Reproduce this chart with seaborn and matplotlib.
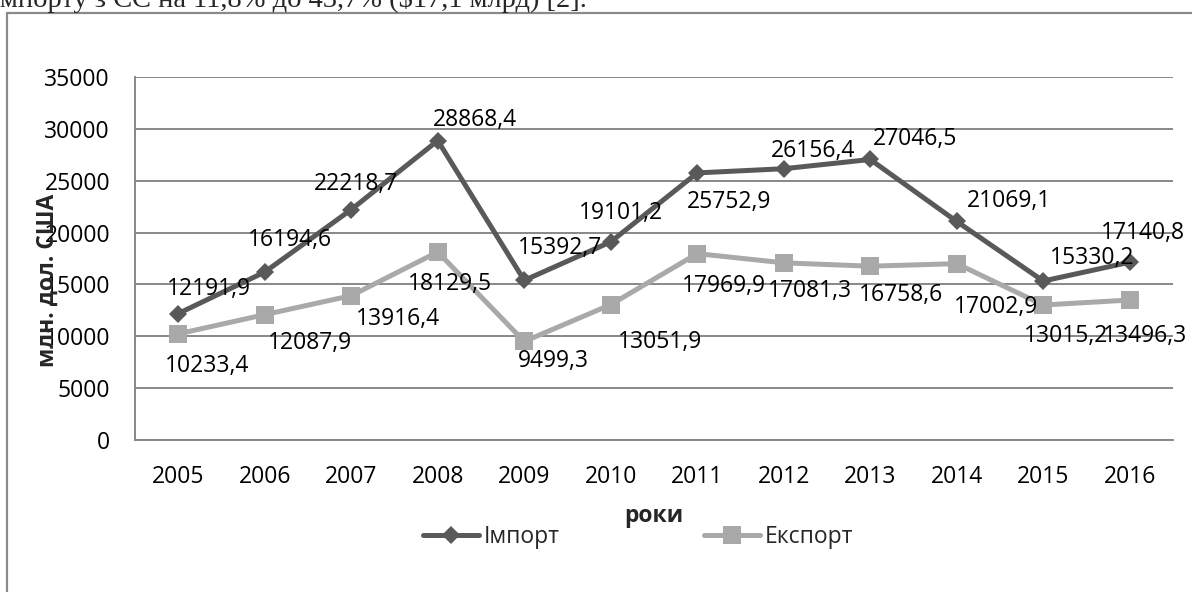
import matplotlib
matplotlib.use("Agg")
import numpy as np
import pandas as pd
import matplotlib.pyplot as plt
import seaborn as sns
from matplotlib.patches import Rectangle

# Дані з діаграми (млн. дол. США)
years = [2005, 2006, 2007, 2008, 2009, 2010, 2011, 2012, 2013, 2014, 2015, 2016]
import_vals = [12191.9, 16194.6, 22218.7, 28868.4, 15392.7, 19101.2,
               25752.9, 26156.4, 27046.5, 21069.1, 15330.2, 17140.8]
export_vals = [10233.4, 12087.9, 13916.4, 18129.5, 9499.3, 13051.9,
               17969.9, 17081.3, 16758.6, 17002.9, 13015.2, 13496.3]
series_names = ["Імпорт", "Експорт"]
y_ticks = [0, 5000, 10000, 15000, 20000, 25000, 30000, 35000]

# зсуви підписів даних (пікселі, як в Excel вручну)
imp_off = [(31, 25), (25, 32), (5, 26), (37, 21), (36, 32), (10, 29),
           (32, -29), (29, 18), (45, 20), (52, 20), (49, 23), (13, 29)]
exp_off = [(29, -32), (45, -28), (47, -23), (12, -32), (29, -20), (49, -37),
           (27, -32), (26, -28), (31, -29), (39, -43), (23, -31), (15, -36)]

df = pd.DataFrame({"year": years, "Імпорт": import_vals, "Експорт": export_vals})

sns.set_theme(style="white")
plt.rcParams["font.family"] = ["Open Sans", "DejaVu Sans"]

W, H = 1192, 592
fig = plt.figure(figsize=(W / 100, H / 100), dpi=100)
ax = fig.add_axes([135 / W, 1 - 440 / H, (1173 - 135) / W, (440 - 77) / H])

dark = "#595959"
light = "#A9A9A9"
grid_c = "#888888"

sns.lineplot(data=df, x="year", y="Імпорт", ax=ax, color=dark, lw=3.6,
             marker="D", ms=9.5, mew=0, label=series_names[0], legend=False)
sns.lineplot(data=df, x="year", y="Експорт", ax=ax, color=light, lw=3.6,
             marker="s", ms=13, mew=0, label=series_names[1], legend=False)

for x, v, (dx, dy) in zip(years, import_vals, imp_off):
    ax.annotate(f"{v:.1f}".replace(".", ","), (x, v), xytext=(dx, dy),
                textcoords="offset pixels", ha="center", va="center",
                fontsize=16.5, color="black", annotation_clip=False)
for x, v, (dx, dy) in zip(years, export_vals, exp_off):
    ax.annotate(f"{v:.1f}".replace(".", ","), (x, v), xytext=(dx, dy),
                textcoords="offset pixels", ha="center", va="center",
                fontsize=16.5, color="black", annotation_clip=False)

ax.set_xlim(years[0] - 0.5, years[-1] + 0.5)
ax.set_ylim(0, 35000)
ax.set_xticks(years)
ax.set_xticklabels([str(y) for y in years])
ax.set_yticks(y_ticks)
ax.set_yticklabels([str(t) for t in y_ticks])
ax.tick_params(axis="both", length=0, labelsize=16.5, colors="black")
ax.tick_params(axis="y", pad=18)
ax.tick_params(axis="x", pad=18)
ax.yaxis.grid(True, color=grid_c, lw=1.4)
ax.xaxis.grid(False)
for s in ["top", "right"]:
    ax.spines[s].set_visible(False)
for s in ["left", "bottom"]:
    ax.spines[s].set_color(grid_c)
    ax.spines[s].set_linewidth(1.4)
ax.set_xlabel("")
ax.set_ylabel("")

fig.text(47.5 / W, 1 - 280 / H, "млн. дол. США", rotation=90, ha="center",
         va="center", fontsize=16.5, fontweight="bold")
fig.text(654 / W, 1 - 516 / H, "роки", ha="center", va="center",
         fontsize=16.5, fontweight="bold")

handles, labels = ax.get_legend_handles_labels()
fig.legend(handles, labels, loc="center", bbox_to_anchor=(638 / W, 1 - 537 / H),
           ncol=2, frameon=False, fontsize=16.5, handlelength=2.45,
           handletextpad=0.2, columnspacing=6.3)

# рамка діаграми та обрізаний рядок тексту документа зверху
fig.patches.append(Rectangle((7 / W, -0.1), 1.2, 1 - 13 / H + 0.1,
                             transform=fig.transFigure, fill=False,
                             edgecolor="#8a8a8a", lw=1.6))
fig.text(-8 / W, 1 - 7 / H, "імпорту з ЄС на 11,8% до 43,7% ($17,1 млрд) [2].",
         family="Liberation Serif", fontsize=20.5, va="baseline", ha="left")

fig.savefig("out.png", dpi=100)
